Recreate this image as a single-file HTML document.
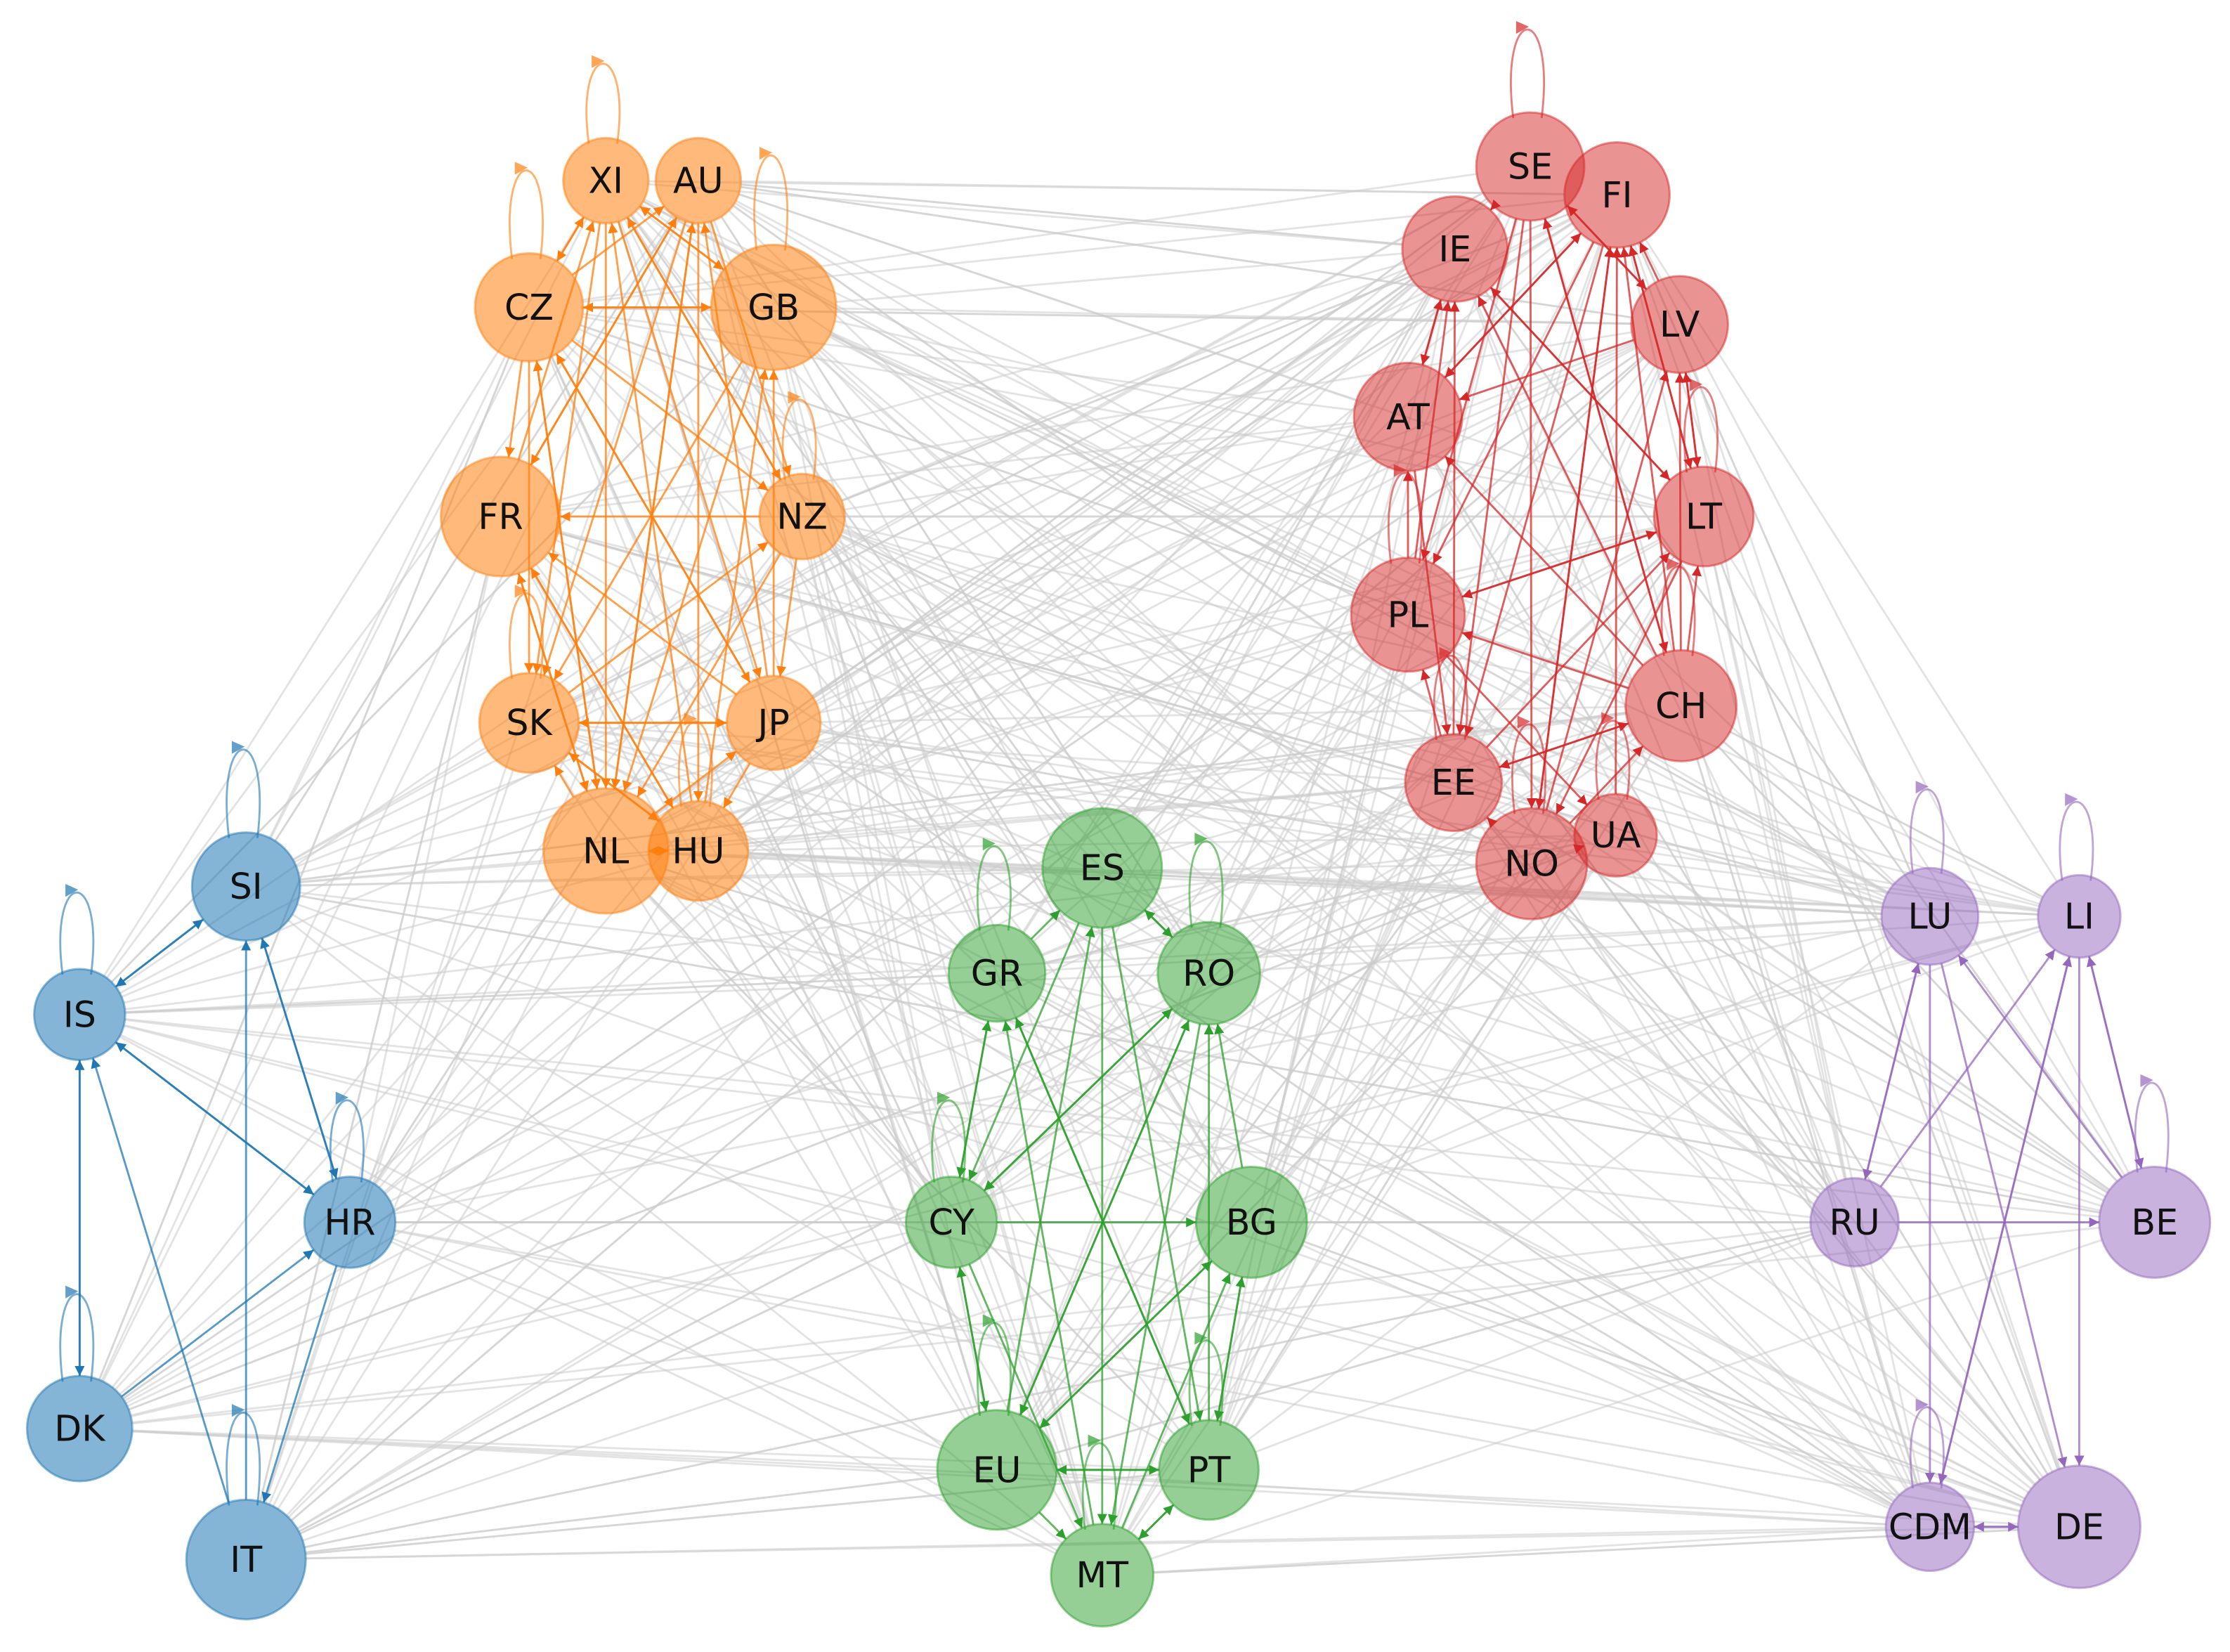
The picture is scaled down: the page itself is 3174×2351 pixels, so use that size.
<!DOCTYPE html>
<html><head><meta charset="utf-8">
<style>
html,body{margin:0;padding:0;background:#fff;width:3174px;height:2351px;overflow:hidden}
svg{display:block}
text{font-family:"DejaVu Sans","Liberation Sans",sans-serif;font-size:25px;text-anchor:middle;dominant-baseline:central;fill:#111}
</style></head><body>
<svg id="s" width="3174" height="2351" viewBox="0 0 1568 1161" preserveAspectRatio="none" xmlns="http://www.w3.org/2000/svg">
<defs>
<marker id="m0" viewBox="0 0 10 10" refX="10" refY="5" markerWidth="5" markerHeight="5" orient="auto"><path d="M0,0L10,5L0,10z" fill="#ff7f0e"/></marker>
<marker id="m1" viewBox="0 0 10 10" refX="10" refY="5" markerWidth="5" markerHeight="5" orient="auto"><path d="M0,0L10,5L0,10z" fill="#d62728"/></marker>
<marker id="m2" viewBox="0 0 10 10" refX="10" refY="5" markerWidth="5" markerHeight="5" orient="auto"><path d="M0,0L10,5L0,10z" fill="#2ca02c"/></marker>
<marker id="m3" viewBox="0 0 10 10" refX="10" refY="5" markerWidth="5" markerHeight="5" orient="auto"><path d="M0,0L10,5L0,10z" fill="#1f77b4"/></marker>
<marker id="m4" viewBox="0 0 10 10" refX="10" refY="5" markerWidth="5" markerHeight="5" orient="auto"><path d="M0,0L10,5L0,10z" fill="#9467bd"/></marker>
</defs>
<g id="edges"></g>
<g id="nodes" stroke-width="1.5">
<g fill="#ff7f0e" fill-opacity="0.55" stroke="#ff7f0e" stroke-opacity="0.5">
<circle cx="426" cy="127" r="30"/><circle cx="491" cy="127" r="30"/><circle cx="372" cy="216" r="38"/><circle cx="544" cy="216" r="44"/><circle cx="352" cy="363" r="42"/><circle cx="564" cy="363" r="30"/><circle cx="372" cy="508" r="35"/><circle cx="544" cy="508" r="33"/><circle cx="426" cy="598" r="44"/><circle cx="491" cy="598" r="35"/>
</g>
<g fill="#d62728" fill-opacity="0.5" stroke="#d62728" stroke-opacity="0.5">
<circle cx="1076" cy="117" r="38"/><circle cx="1137" cy="137" r="37"/><circle cx="1023" cy="175" r="37"/><circle cx="1181" cy="228" r="34"/><circle cx="990" cy="293" r="38"/><circle cx="1198" cy="363" r="35"/><circle cx="990" cy="432" r="40"/><circle cx="1182" cy="496" r="39"/><circle cx="1022" cy="550" r="34"/><circle cx="1136" cy="587" r="29"/><circle cx="1077" cy="607" r="39"/>
</g>
<g fill="#2ca02c" fill-opacity="0.5" stroke="#2ca02c" stroke-opacity="0.5">
<circle cx="775" cy="610" r="42"/><circle cx="701" cy="684" r="34"/><circle cx="850" cy="684" r="36"/><circle cx="669" cy="859" r="32"/><circle cx="880" cy="859" r="39"/><circle cx="701" cy="1033" r="42"/><circle cx="850" cy="1033" r="35"/><circle cx="775" cy="1107" r="36"/>
</g>
<g fill="#1f77b4" fill-opacity="0.55" stroke="#1f77b4" stroke-opacity="0.5">
<circle cx="173" cy="623" r="38"/><circle cx="56" cy="713" r="32"/><circle cx="246" cy="859" r="32"/><circle cx="56" cy="1004" r="37"/><circle cx="173" cy="1096" r="42"/>
</g>
<g fill="#9467bd" fill-opacity="0.5" stroke="#9467bd" stroke-opacity="0.5">
<circle cx="1357" cy="644" r="34"/><circle cx="1462" cy="644" r="29"/><circle cx="1304" cy="859" r="31"/><circle cx="1515" cy="859" r="39"/><circle cx="1357" cy="1073" r="31"/><circle cx="1462" cy="1073" r="43"/>
</g>
</g>
<g id="labels">
<text x="426" y="127">XI</text><text x="491" y="127">AU</text><text x="372" y="216">CZ</text><text x="544" y="216">GB</text><text x="352" y="363">FR</text><text x="564" y="363">NZ</text><text x="372" y="508">SK</text><text x="544" y="508">JP</text><text x="426" y="598">NL</text><text x="491" y="598">HU</text>
<text x="1076" y="117">SE</text><text x="1137" y="137">FI</text><text x="1023" y="175">IE</text><text x="1181" y="228">LV</text><text x="990" y="293">AT</text><text x="1198" y="363">LT</text><text x="990" y="432">PL</text><text x="1182" y="496">CH</text><text x="1022" y="550">EE</text><text x="1136" y="587">UA</text><text x="1077" y="607">NO</text>
<text x="775" y="610">ES</text><text x="701" y="684">GR</text><text x="850" y="684">RO</text><text x="669" y="859">CY</text><text x="880" y="859">BG</text><text x="701" y="1033">EU</text><text x="850" y="1033">PT</text><text x="775" y="1107">MT</text>
<text x="173" y="623">SI</text><text x="56" y="713">IS</text><text x="246" y="859">HR</text><text x="56" y="1004">DK</text><text x="173" y="1096">IT</text>
<text x="1357" y="644">LU</text><text x="1462" y="644">LI</text><text x="1304" y="859">RU</text><text x="1515" y="859">BE</text><text x="1357" y="1073">CDM</text><text x="1462" y="1073">DE</text>
</g>
</svg>
<script>
(function(){
var C=[
[[426,127,30],[491,127,30],[372,216,38],[544,216,44],[352,363,42],[564,363,30],[372,508,35],[544,508,33],[426,598,44],[491,598,35]],
[[1076,117,38],[1137,137,37],[1023,175,37],[1181,228,34],[990,293,38],[1198,363,35],[990,432,40],[1182,496,39],[1022,550,34],[1136,587,29],[1077,607,39]],
[[775,610,42],[701,684,34],[850,684,36],[669,859,32],[880,859,39],[701,1033,42],[850,1033,35],[775,1107,36]],
[[173,623,38],[56,713,32],[246,859,32],[56,1004,37],[173,1096,42]],
[[1357,644,34],[1462,644,29],[1304,859,31],[1515,859,39],[1357,1073,31],[1462,1073,43]]];
var col=['#ff7f0e','#d62728','#2ca02c','#1f77b4','#9467bd'];
var seed=12345;function rnd(){seed=(seed*1103515245+12345)%2147483648;return seed/2147483648;}
var g=document.getElementById('edges'),ns='http://www.w3.org/2000/svg';
function line(a,b,stroke,op,w,m){
 var dx=b[0]-a[0],dy=b[1]-a[1],d=Math.sqrt(dx*dx+dy*dy);if(d<1)return;
 var l=document.createElementNS(ns,'line');
 l.setAttribute('x1',a[0]+dx/d*a[2]);l.setAttribute('y1',a[1]+dy/d*a[2]);
 l.setAttribute('x2',b[0]-dx/d*b[2]);l.setAttribute('y2',b[1]-dy/d*b[2]);
 l.setAttribute('stroke',stroke);l.setAttribute('stroke-opacity',op);l.setAttribute('stroke-width',w);
 if(m)l.setAttribute('marker-end','url(#'+m+')');g.appendChild(l);}
var all=[];C.forEach(function(c,i){c.forEach(function(n){all.push([n,i]);});});
for(var i=0;i<all.length;i++)for(var j=0;j<all.length;j++){
 if(i===j||all[i][1]===all[j][1])continue;
 if(rnd()<0.34)line(all[i][0],all[j][0],'#cccccc',0.55,1.4,null);}
C.forEach(function(c,k){
 for(var i=0;i<c.length;i++)for(var j=0;j<c.length;j++){
  if(i===j)continue;if(rnd()<0.5)line(c[i],c[j],col[k],0.75,1.4,'m'+k);}
 c.forEach(function(n){if(rnd()<0.6){
  var x=n[0]-8,y=n[1]-n[2]+4,h=n[2]+45;
  var p=document.createElementNS(ns,'path');
  p.setAttribute('d','M'+(x-4)+','+y+' C'+(x-14)+','+(y-h)+' '+(x+26)+','+(y-h)+' '+(x+16)+','+y);
  p.setAttribute('fill','none');p.setAttribute('stroke',col[k]);p.setAttribute('stroke-opacity',0.6);p.setAttribute('stroke-width',1.4);
  g.appendChild(p);
  var t=document.createElementNS(ns,'path');var ty=y-h*0.75;
  t.setAttribute('d','M'+(x-2)+','+(ty-6)+'L'+(x+7)+','+(ty-2)+'L'+(x-2)+','+(ty+3)+'z');
  t.setAttribute('fill',col[k]);t.setAttribute('fill-opacity',0.7);g.appendChild(t);}});
});
})();
</script>
</body></html>
